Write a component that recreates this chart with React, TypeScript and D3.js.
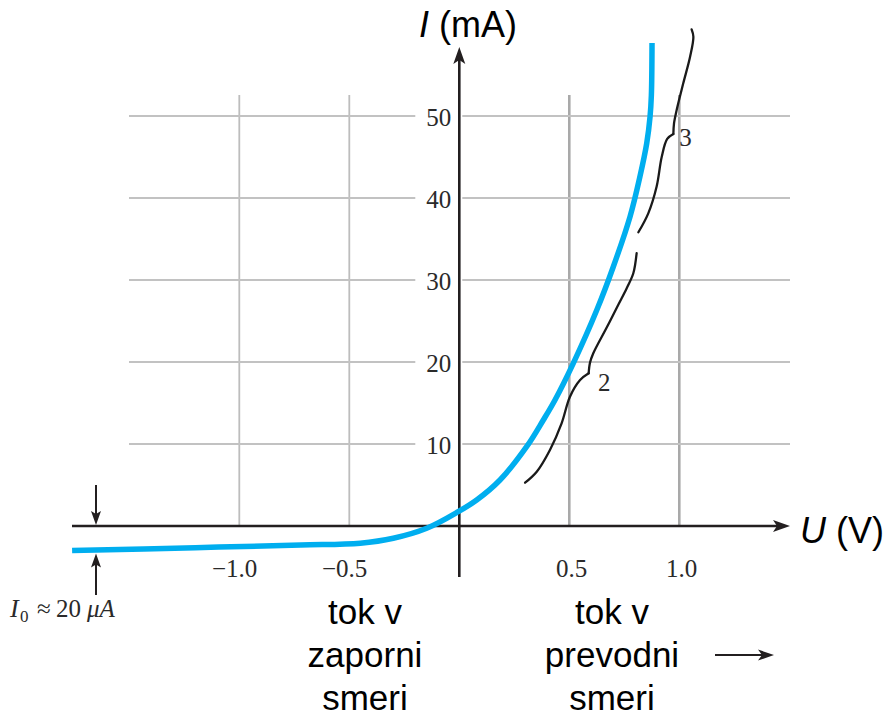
import { useEffect, useRef } from 'react';
import * as d3 from 'd3';

// axis ticks
const U_TICKS = [-1.0, -0.5, 0.5, 1.0];
const U_TICK_LABELS = ['\u22121.0', '\u22120.5', '0.5', '1.0'];
const I_TICKS = [10, 20, 30, 40, 50];
const I_TICK_LABELS = ['10', '20', '30', '40', '50'];

// diode characteristic, [U (V), I (mA)]
const DIODE: [number, number][] = [
  [-1.76, -3.0], [-1.2, -2.64], [-0.72, -2.32], [-0.45, -2.1], [-0.3, -1.5],
  [-0.148, -0.28], [-0.005, 1.74], [0.079, 3.17], [0.185, 5.61], [0.306, 9.67],
  [0.382, 12.93], [0.435, 15.37], [0.518, 19.84], [0.625, 26.34], [0.7, 31.62],
  [0.776, 37.72], [0.821, 42.6], [0.852, 46.67], [0.867, 49.91], [0.873, 52.5], [0.876, 58.9],
];

// brace marks "2" and "3" (lower arm, upper arm; they meet at the tip)
const BRACE_2_LOW: [number, number][] = [
  [0.299, 5.28], [0.352, 6.62], [0.412, 9.27], [0.465, 12.52], [0.503, 15.77],
  [0.549, 17.8], [0.588, 18.62],
];
const BRACE_2_HIGH: [number, number][] = [
  [0.588, 18.62], [0.594, 19.9], [0.609, 21.06], [0.67, 24.2], [0.725, 27.1],
  [0.761, 29.0], [0.791, 30.82], [0.806, 33.26],
];
const BRACE_3_LOW: [number, number][] = [
  [0.814, 35.82], [0.859, 38.13], [0.897, 41.4], [0.92, 45.0], [0.945, 47.2], [0.973, 47.8],
];
const BRACE_3_HIGH: [number, number][] = [
  [0.973, 47.8], [0.976, 49.11], [0.988, 50.73], [1.018, 53.99], [1.049, 57.23],
  [1.064, 59.67], [1.056, 60.57],
];
const BRACE_LABELS: { label: string; at: [number, number] }[] = [
  { label: '2', at: [0.63, 16.5] },
  { label: '3', at: [1.0, 46.4] },
];

const SERIF = "'Liberation Serif', 'DejaVu Serif', serif";
const SANS = "'Liberation Sans', Arial, sans-serif";

export default function App() {
  const ref = useRef<SVGSVGElement>(null);

  useEffect(() => {
    if (!ref.current) return;
    const svg = d3.select(ref.current);
    svg.selectAll('*').remove();

    const W = 884, H = 718;
    svg.attr('width', W).attr('height', H);

    const x = d3.scaleLinear().domain([-1, 1]).range([239.3, 679.3]);
    const y = d3.scaleLinear().domain([0, 50]).range([526, 116]);

    const gridLeft = 129, gridRight = 790, gridTop = 95;
    const x0 = x(0), y0 = y(0);

    // Grid
    const grid = svg.append('g');
    grid.selectAll('line.v')
      .data(U_TICKS)
      .join('line')
      .attr('x1', d => x(d)).attr('x2', d => x(d))
      .attr('y1', gridTop).attr('y2', y0)
      .attr('stroke', d => (d > 0 ? '#a9a9a9' : '#bdbdbd'))
      .attr('stroke-width', d => (d > 0 ? 2.6 : 1.8));
    I_TICKS.forEach(d => {
      grid.append('line')
        .attr('x1', gridLeft).attr('x2', x0 - 44)
        .attr('y1', y(d)).attr('y2', y(d))
        .attr('stroke', '#c2c2c2').attr('stroke-width', 2);
      grid.append('line')
        .attr('x1', x0 + 3).attr('x2', gridRight)
        .attr('y1', y(d)).attr('y2', y(d))
        .attr('stroke', '#c2c2c2').attr('stroke-width', 2);
    });

    // Axes
    const axisColor = '#231f20';
    svg.append('line')
      .attr('x1', 72).attr('x2', gridRight - 10)
      .attr('y1', y0).attr('y2', y0)
      .attr('stroke', axisColor).attr('stroke-width', 2.4);
    svg.append('path')
      .attr('d', `M${gridRight},${y0} L${gridRight - 17},${y0 - 6} L${gridRight - 13},${y0} L${gridRight - 17},${y0 + 6} Z`)
      .attr('fill', axisColor);
    svg.append('line')
      .attr('x1', x0).attr('x2', x0)
      .attr('y1', 577).attr('y2', 57)
      .attr('stroke', axisColor).attr('stroke-width', 2.6);
    svg.append('path')
      .attr('d', `M${x0},47 L${x0 - 6},64 L${x0},60 L${x0 + 6},64 Z`)
      .attr('fill', axisColor);

    // Tick labels
    svg.append('g').selectAll('text')
      .data(U_TICKS)
      .join('text')
      .attr('x', d => x(d) + 18).attr('y', 577)
      .attr('text-anchor', 'end')
      .attr('font-family', SERIF).attr('font-size', 25).attr('fill', '#2a2a2a')
      .text((d, i) => U_TICK_LABELS[i]);
    svg.append('g').selectAll('text')
      .data(I_TICKS)
      .join('text')
      .attr('x', x0 - 8).attr('y', d => y(d) + 10)
      .attr('text-anchor', 'end')
      .attr('font-family', SERIF).attr('font-size', 25).attr('fill', '#2a2a2a')
      .text((d, i) => I_TICK_LABELS[i]);

    // Axis titles
    const it = svg.append('text').attr('x', 419).attr('y', 37)
      .attr('font-family', SANS).attr('font-size', 36).attr('fill', '#000');
    it.append('tspan').attr('font-style', 'italic').text('I');
    it.append('tspan').text(' (mA)');
    const ut = svg.append('text').attr('x', 800).attr('y', 543)
      .attr('font-family', SANS).attr('font-size', 36).attr('fill', '#000');
    ut.append('tspan').attr('font-style', 'italic').text('U');
    ut.append('tspan').text(' (V)');

    // Braces
    const smooth = d3.line<[number, number]>()
      .x(d => x(d[0])).y(d => y(d[1]))
      .curve(d3.curveCatmullRom.alpha(0.5));
    [BRACE_2_LOW, BRACE_2_HIGH, BRACE_3_LOW, BRACE_3_HIGH].forEach(b => {
      svg.append('path').datum(b)
        .attr('fill', 'none').attr('stroke', '#1a1a1a').attr('stroke-width', 2.3)
        .attr('stroke-linecap', 'round')
        .attr('d', smooth);
    });
    svg.append('g').selectAll('text')
      .data(BRACE_LABELS)
      .join('text')
      .attr('x', d => x(d.at[0])).attr('y', d => y(d.at[1]))
      .attr('font-family', SERIF).attr('font-size', 25).attr('fill', '#2a2a2a')
      .text(d => d.label);

    // Diode curve
    svg.append('path').datum(DIODE)
      .attr('fill', 'none').attr('stroke', '#00aeef').attr('stroke-width', 5.5)
      .attr('d', smooth);

    // I0 marker
    const ax = 96;
    const iLeft = y(DIODE[0][1]);
    svg.append('line').attr('x1', ax).attr('x2', ax).attr('y1', 485).attr('y2', y0 - 10)
      .attr('stroke', axisColor).attr('stroke-width', 2);
    svg.append('path')
      .attr('d', `M${ax},${y0 - 1} L${ax - 5},${y0 - 15} L${ax},${y0 - 12} L${ax + 5},${y0 - 15} Z`)
      .attr('fill', axisColor);
    svg.append('line').attr('x1', ax).attr('x2', ax).attr('y1', 595).attr('y2', iLeft + 12)
      .attr('stroke', axisColor).attr('stroke-width', 2);
    svg.append('path')
      .attr('d', `M${ax},${iLeft + 3} L${ax - 5},${iLeft + 17} L${ax},${iLeft + 14} L${ax + 5},${iLeft + 17} Z`)
      .attr('fill', axisColor);
    const i0 = svg.append('text').attr('y', 617)
      .attr('font-family', SERIF).attr('font-size', 25).attr('fill', '#2a2a2a');
    i0.append('tspan').attr('x', 10).attr('font-style', 'italic').attr('font-size', 26).text('I');
    i0.append('tspan').attr('x', 20).attr('dy', 5).attr('font-size', 17).text('0');
    i0.append('tspan').attr('x', 37).attr('dy', -5).text('\u2248');
    i0.append('tspan').attr('x', 56).text('20');
    i0.append('tspan').attr('x', 87).attr('font-style', 'italic').text('\u03bcA');

    // Direction notes
    const notes = [
      { cx: 365, lines: ['tok v', 'zaporni', 'smeri'] },
      { cx: 612, lines: ['tok v', 'prevodni', 'smeri'] },
    ];
    notes.forEach(n => {
      n.lines.forEach((t, i) => {
        svg.append('text').attr('x', n.cx).attr('y', 624 + i * 43)
          .attr('text-anchor', 'middle')
          .attr('font-family', SANS).attr('font-size', 35).attr('fill', '#000')
          .text(t);
      });
    });
    svg.append('line').attr('x1', 715).attr('x2', 762).attr('y1', 655).attr('y2', 655)
      .attr('stroke', axisColor).attr('stroke-width', 2);
    svg.append('path')
      .attr('d', 'M774,655 L758,649.5 L762,655 L758,660.5 Z')
      .attr('fill', axisColor);
  }, []);

  return (
    <svg ref={ref} style={{ position: 'absolute', left: 0, top: 0, display: 'block', background: '#fff' }} />
  );
}
